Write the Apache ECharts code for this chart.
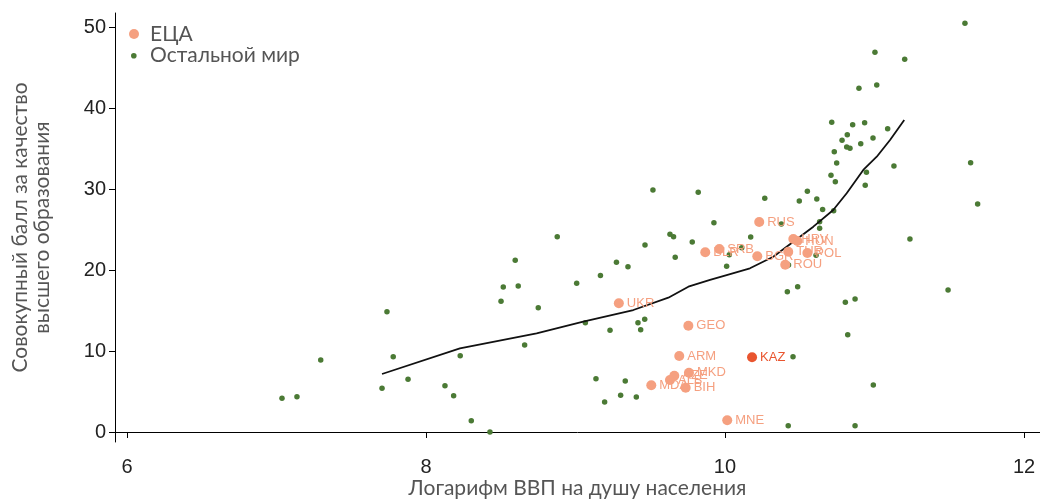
<!DOCTYPE html>
<html>
<head>
<meta charset="utf-8">
<script src="https://cdn.jsdelivr.net/npm/echarts@6/dist/echarts.min.js"></script>
<style>
html,body{margin:0;padding:0;background:#fff;}
#chart{width:1040px;height:499px;}
</style>
</head>
<body>
<div id="chart"></div>
<script>
// ---- data ----
var ecaCodes = ['UKR','GEO','ARM','MKD','AZE','ALB','MDA','BIH','MNE','KAZ','RUS','SRB','BLR','BGR','HRV','HUN','TUR','POL','ROU'];
var ecaX = [9.29, 9.755, 9.694, 9.759, 9.661, 9.632, 9.507, 9.737, 10.015, 10.181, 10.229, 9.962, 9.868, 10.216, 10.457, 10.484, 10.423, 10.551, 10.403];
var ecaY = [15.89, 13.12, 9.38, 7.32, 6.95, 6.42, 5.77, 5.47, 1.44, 9.22, 25.93, 22.59, 22.19, 21.69, 23.83, 23.58, 22.26, 22.10, 20.65];
var highlighted = 'KAZ';

var otherX = [7.037, 7.137, 7.296, 7.739, 7.781, 7.706, 7.880, 8.127, 8.185, 8.229, 8.303, 8.428, 8.502, 8.517, 8.617, 8.597, 8.660, 8.751, 8.878, 9.008,
  9.066, 9.137, 9.167, 9.195, 9.231, 9.274, 9.302, 9.333, 9.351, 9.407, 9.418, 9.436, 9.463, 9.465, 9.518, 9.632, 9.656, 9.667, 9.781, 9.821,
  9.926, 10.011, 10.029, 10.112, 10.172, 10.266, 10.377, 10.425, 10.417, 10.486, 10.455, 10.423, 10.497, 10.551, 10.614, 10.609, 10.633, 10.633, 10.653, 10.727,
  10.709, 10.738, 10.747, 10.731, 10.714, 10.783, 10.818, 10.814, 10.836, 10.854, 10.805, 10.870, 10.821, 10.870, 10.896, 10.908, 10.934, 10.938, 10.946, 10.990,
  10.992, 11.003, 11.015, 11.088, 11.130, 11.202, 11.237, 11.492, 11.605, 11.643, 11.690];
var otherY = [4.16, 4.36, 8.89, 14.85, 9.30, 5.40, 6.51, 5.72, 4.48, 9.42, 1.40, 0.0, 16.14, 17.90, 18.02, 21.20, 10.74, 15.35, 24.11, 18.36,
  13.49, 6.58, 19.32, 3.70, 12.56, 20.95, 4.53, 6.30, 20.41, 4.32, 13.49, 12.63, 13.91, 23.09, 29.88, 24.41, 24.10, 21.58, 23.46, 29.59,
  25.84, 20.46, 21.89, 22.75, 24.07, 28.85, 25.68, 20.62, 17.32, 17.94, 9.30, 0.78, 28.52, 29.72, 28.77, 21.81, 25.96, 25.15, 27.47, 27.32,
  31.69, 30.90, 33.21, 34.60, 38.23, 36.01, 36.70, 35.19, 35.02, 37.94, 16.01, 16.42, 12.01, 0.78, 42.43, 35.59, 38.19, 30.46, 32.07, 36.30,
  5.80, 46.88, 42.84, 37.44, 32.84, 46.01, 23.83, 17.53, 50.46, 33.25, 28.15];

var lowessX = [7.706, 8.227, 8.740, 9.052, 9.387, 9.621, 9.755, 9.900, 10.011, 10.167, 10.323, 10.457, 10.591, 10.724, 10.814, 10.925, 11.015, 11.104, 11.199];
var lowessY = [7.16, 10.33, 12.19, 13.62, 15.06, 16.58, 17.94, 18.77, 19.38, 20.21, 21.64, 23.49, 25.35, 27.41, 29.47, 32.35, 33.99, 36.05, 38.52];

var xTicks = [6, 8, 10, 12];
var yTicks = [0, 10, 20, 30, 40, 50];
var seriesNames = ['ЕЦА', 'Остальной мир'];
var xTitle = 'Логарифм ВВП на душу населения';
var yTitle = 'Совокупный балл за качество\nвысшего образования';

// ---- styles ----
var ecaColor = '#f5a080';
var kazColor = '#e9552f';
var otherColor = '#4b7a35';
var titleFont = 'Lato, "Noto Sans", sans-serif';
var tickFont = '"Liberation Sans", Arial, sans-serif';

var ecaData = ecaCodes.map(function (c, i) {
  var d = { name: c, value: [ecaX[i], ecaY[i]] };
  if (c === highlighted) {
    d.itemStyle = { color: kazColor };
    d.label = { color: kazColor };
  }
  return d;
});
var otherData = otherX.map(function (x, i) { return [x, otherY[i]]; });
var lowessData = lowessX.map(function (x, i) { return [x, lowessY[i]]; });

var chart = echarts.init(document.getElementById('chart'), null, { renderer: 'canvas' });
chart.setOption({
  animation: false,
  backgroundColor: '#ffffff',
  grid: { left: 115, right: 0, top: 13, bottom: 57, containLabel: false, outerBoundsMode: 'none' },
  xAxis: {
    type: 'value', min: 5.92, max: 12.107,
    name: xTitle, nameLocation: 'middle', nameGap: 36, nameMoveOverlap: false,
    nameTextStyle: { fontFamily: titleFont, fontSize: 21, color: '#555555' },
    axisLine: { show: true, lineStyle: { color: '#000', width: 1 } },
    axisTick: { show: true, length: 6, customValues: xTicks, lineStyle: { color: '#000' } },
    axisLabel: { customValues: xTicks, fontFamily: tickFont, fontSize: 20, color: '#222', margin: 15 },
    splitLine: { show: false }
  },
  yAxis: {
    type: 'value', min: -1.235, max: 51.73,
    name: yTitle, nameLocation: 'middle', nameGap: 62, nameRotate: 90,
    nameTextStyle: { fontFamily: titleFont, fontSize: 21, color: '#555555', lineHeight: 22, align: 'center' },
    axisLine: { show: true, lineStyle: { color: '#000', width: 1 } },
    axisTick: { show: true, length: 6, customValues: yTicks, lineStyle: { color: '#000' } },
    axisLabel: { customValues: yTicks, fontFamily: tickFont, fontSize: 20, color: '#222', margin: 9 },
    splitLine: { show: false }
  },
  graphic: [
    { type: 'circle', left: 129, top: 29, shape: { r: 5 }, style: { fill: ecaColor } },
    { type: 'text', left: 150, top: 24, style: { text: seriesNames[0], font: '21px ' + titleFont, fill: '#555555' } },
    { type: 'circle', left: 131, top: 53, shape: { r: 2.8 }, style: { fill: otherColor } },
    { type: 'text', left: 150, top: 45, style: { text: seriesNames[1], font: '21px ' + titleFont, fill: '#555555' } }
  ],
  series: [
    {
      name: seriesNames[1], type: 'scatter', data: otherData, symbol: 'circle', symbolSize: 5.5,
      itemStyle: { color: otherColor, opacity: 1 }, z: 2
    },
    {
      name: 'lowess', type: 'line', data: lowessData, showSymbol: false, smooth: false,
      lineStyle: { color: '#111', width: 1.8 }, z: 3
    },
    {
      name: seriesNames[0], type: 'scatter', data: ecaData, symbol: 'circle', symbolSize: 10,
      itemStyle: { color: ecaColor, opacity: 1 }, z: 4,
      label: {
        show: true, position: 'right', distance: 3, formatter: '{b}',
        fontFamily: tickFont, fontSize: 13, color: ecaColor
      }
    }
  ]
});
</script>
</body>
</html>
